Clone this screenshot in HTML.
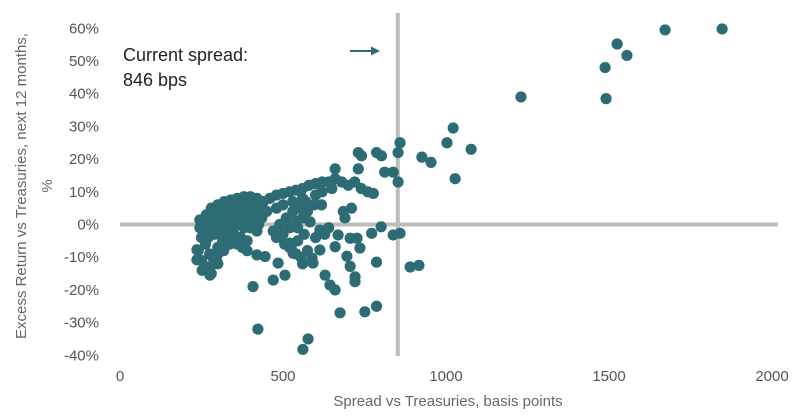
<!DOCTYPE html>
<html><head><meta charset="utf-8">
<style>
html,body{margin:0;padding:0;background:#fff;}
svg{display:block;font-family:"Liberation Sans Narrow","Liberation Sans",sans-serif;}
</style></head>
<body>
<svg id="chart" width="800" height="416" viewBox="0 0 800 416" xmlns="http://www.w3.org/2000/svg">
<g id="grid"></g>
<g id="yticks"></g>
<g id="xticks"></g>
<g id="dots"></g>
<text x="123" y="61" font-size="18" fill="#222">Current spread:</text>
<text x="123" y="86" font-size="18" fill="#222">846 bps</text>
<g>
<line x1="350" y1="51" x2="374" y2="51" stroke="#2e6c75" stroke-width="2"/>
<polygon points="380,51 371,46.5 371,55.5" fill="#2e6c75"/>
</g>
<text x="448" y="406" font-size="15" fill="#666" text-anchor="middle">Spread vs Treasuries, basis points</text>
<text transform="translate(26,186) rotate(-90)" font-size="15" fill="#666" text-anchor="middle">Excess Return vs Treasuries, next 12 months,</text>
<text transform="translate(52,186) rotate(-90)" font-size="15" fill="#666" text-anchor="middle">%</text>
</svg>
<script>
const xTicks=[0,500,1000,1500,2000];
const yTicks=[60,50,40,30,20,10,0,-10,-20,-30,-40];
const currentSpread=846;
const spreads=[1847,1672,1525,1555,1488,1491,1230,1022,1003,1077,926,954,1028,859,853,853,731,741,787,802,731,812,838,777,685,618,660,801,772,838,859,890,917,787,787,751,675,660,644,629,721,721,706,696,736,660,613,589,592,613,628,669,706,727,583,531,521,506,470,485,408,423,577,561,445,420,368,276,236,236,245,300,
265,280,300,320,340,360,380,400,420,440,460,480,500,520,540,560,580,600,620,640,660,680,700,720,740,760,620,650,600,560,530,500,480,
250,260,270,290,310,330,350,370,390,410,430,450,255,275,295,315,335,355,375,395,415,435,245,265,285,305,325,345,365,385,405,425,260,280,300,320,340,360,380,400,420,250,270,290,310,330,350,370,390,
240,250,262,275,288,300,315,330,345,360,375,390,252,268,284,300,318,336,280,296,312,330,350,
470,490,510,530,550,570,480,500,520,540,560,575,595,505,525,545,565,540,555,575,600,640,690,710,545,520,560];
const returns=[59.8,59.5,55.2,51.7,48,38.5,39,29.5,25,23,20.6,19,14,25,22,13,22,21,22,21,17,16,16,9.5,4,6,17,-0.7,-2.7,-3.2,-2.7,-13,-12.5,-11.5,-25,-26.7,-27,-20,-18.5,-15.5,-17.5,-16,-12.8,-9.7,-7.2,-6.8,-7.8,-10.3,-11.8,-1.7,-3,-3.2,-4.2,-4.2,0.8,-8.8,-5.7,-15.5,-17,-11.8,-19,-32,-35,-38.2,-9.8,-9.3,-4.7,-15.5,-10.8,-7.7,1.4,-12,
3,5,6,7,7.5,8,8.5,8.5,8,7,8,9,9.5,10,10.5,11,12,12.5,13,13,14,13,12,13,11,10,10,11,9,8,7,6,5,
1,2,3,4,5,6,6.5,7,7,6,5,4,0,1,2,3,4,5,5,4,3,2,-1,-1,0,1,2,3,3,2,1,0,-2,-3,-2,-1,0,0,-1,-1,-2,-4,-4,-3,-3,-2,-3,-4,-5,
-8,-11,-6,-9,-12,-7,-5,-6,-4,-6,-7,-8,-14,-13,-10,-9,-8,-6,-15,-11,-7,-5,-4,
-2,0,2,4,5,7,-4,-3,-1,1,2,4,6,-6,-7,-5,-3,-9,-10,-8,-4,-1,2,5,-1,-7,-12];
const X0=120,XS=0.326,Y0=224.5,YS=3.27;
function xs(v){return X0+v*XS;}
function ys(v){return Y0-v*YS;}
const NS="http://www.w3.org/2000/svg";
function mk(tag,attrs,parent){const e=document.createElementNS(NS,tag);for(const k in attrs)e.setAttribute(k,attrs[k]);parent.appendChild(e);return e;}
const grid=document.getElementById('grid');
const hl=mk('line',{x1:xs(0),x2:xs(2000)+6,y1:ys(0),y2:ys(0),stroke:'#bdbdbd','stroke-width':4},grid);


const vl=mk('line',{x1:xs(currentSpread)+2,x2:xs(currentSpread)+2,y1:13,y2:356,stroke:'#bdbdbd','stroke-width':4},grid);


const yt=document.getElementById('yticks');
yTicks.forEach(v=>{
  const t=mk('text',{x:99,y:ys(v)+5,'font-size':15,fill:'#555','text-anchor':'end'},yt);
  t.textContent=v+'%';
  
  
});
const xt=document.getElementById('xticks');
xTicks.forEach(v=>{
  const t=mk('text',{x:xs(v),y:381,'font-size':15,fill:'#555','text-anchor':'middle'},xt);
  t.textContent=v;
  
  
});
const dots=document.getElementById('dots');
for(let i=0;i<spreads.length&&i<returns.length;i++){
  const c=mk('circle',{cx:xs(spreads[i]),cy:ys(returns[i]),r:5.6,fill:'#2e6c75'},dots);
  
  
}
</script>
</body></html>
